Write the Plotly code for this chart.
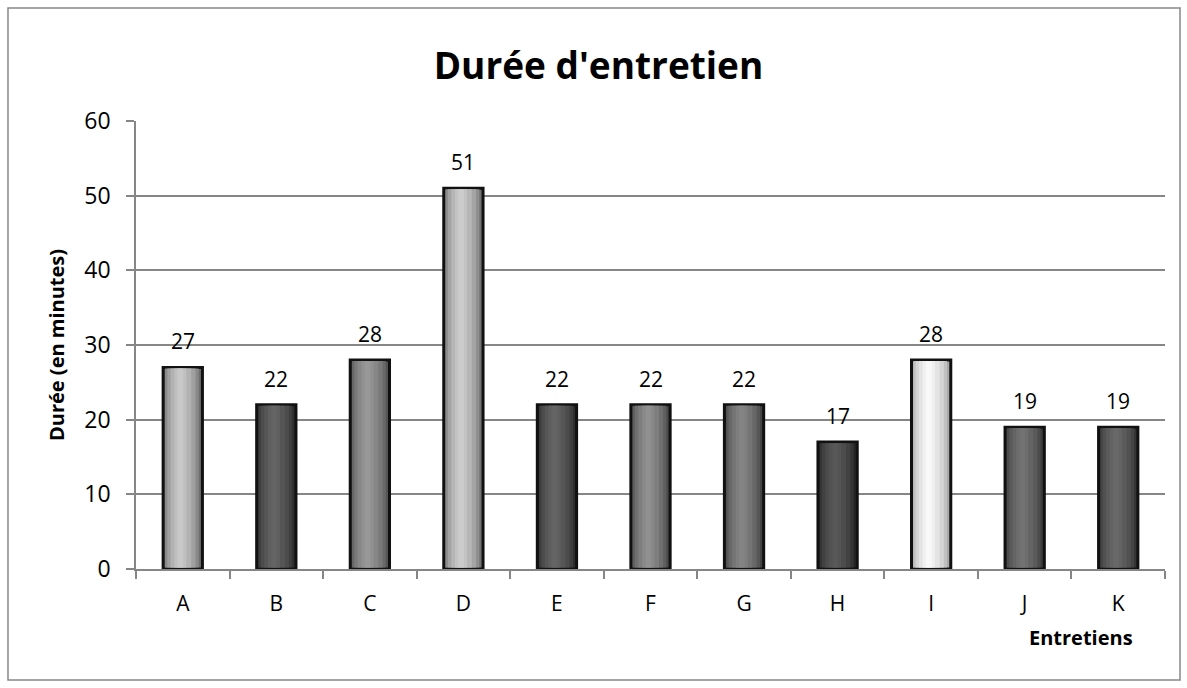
import plotly.graph_objects as go

categories = ["A", "B", "C", "D", "E", "F", "G", "H", "I", "J", "K"]
values = [27, 22, 28, 51, 22, 22, 22, 17, 28, 19, 19]
# grey levels of each bar (edge and centre highlight), 0-255
edge_grey = [112, 46, 85, 116, 46, 74, 68, 38, 168, 60, 52]
light_grey = [200, 100, 152, 204, 100, 144, 132, 88, 248, 114, 104]
y_ticks = [0, 10, 20, 30, 40, 50, 60]

FONT = "Open Sans"
fig = go.Figure()
n = len(values)


def grey(g):
    g = int(round(g))
    return f"rgb({g},{g},{g})"


fig.add_trace(go.Bar(x=categories, y=values, width=0.42,
                     marker=dict(color=[grey(g) for g in edge_grey], line=dict(color="#111111", width=3)),
                     hoverinfo="skip", showlegend=False))

layers = [(0.36, -0.19, 0.3), (0.30, -0.165, 0.55), (0.22, -0.13, 0.75), (0.13, -0.09, 0.9), (0.06, -0.055, 1.0)]
for w, off, t in layers:
    cols = [grey(e + (l - e) * t) for e, l in zip(edge_grey, light_grey)]
    fig.add_trace(go.Bar(x=categories, y=[v - 0.35 for v in values], width=w, offset=off,
                         base=[0.2] * n,
                         marker=dict(color=cols, line=dict(width=0)),
                         hoverinfo="skip", showlegend=False))

for c, v in zip(categories, values):
    fig.add_annotation(x=c, y=v, text=str(v), showarrow=False, yshift=26,
                       font=dict(family=FONT, size=21, color="#000000"))

fig.add_annotation(xref="paper", yref="paper", x=(1081 - 136) / 1029, y=(569 - 637) / 448,
                   text="<b>Entretiens</b>", showarrow=False, xanchor="center", yanchor="middle",
                   font=dict(family=FONT, size=20, color="#000000"))

fig.add_shape(type="rect", xref="paper", yref="paper",
              x0=-0.1244, x1=1.0146, y0=-0.2478, y1=1.2522,
              line=dict(color="#888888", width=1.5), fillcolor="rgba(0,0,0,0)", layer="below")

fig.update_layout(
    width=1187, height=688,
    margin=dict(l=136, r=22, t=121, b=119),
    paper_bgcolor="white", plot_bgcolor="white",
    barmode="overlay",
    title=dict(text="<b>Durée d'entretien</b>", x=598.5 / 1187, xref="container", xanchor="center",
               y=1 - 66 / 688, yanchor="middle", yref="container",
               font=dict(family=FONT, size=37, color="#000000")),
    font=dict(family=FONT, color="#000000"),
    xaxis=dict(showline=True, linecolor="#868686", linewidth=1.5,
               ticks="outside", ticklen=8, tickcolor="#868686", tickwidth=1.5,
               tickson="boundaries", showgrid=False, ticklabelstandoff=15,
               tickfont=dict(family=FONT, size=21, color="#000000")),
    yaxis=dict(range=[0, 60], tickvals=y_ticks, showline=True, linecolor="#868686", linewidth=1.5,
               ticks="outside", ticklen=8, tickcolor="#868686", tickwidth=1.5,
               showgrid=True, gridcolor="#868686", gridwidth=1.5, zeroline=False,
               ticklabelstandoff=11,
               tickfont=dict(family=FONT, size=23, color="#000000"),
               title=dict(text="<b>Durée (en minutes)</b>", standoff=14,
                          font=dict(family=FONT, size=20, color="#000000"))),
)

fig.write_html("out.html", config={"displayModeBar": False},
               post_script="document.body.style.margin='0';document.body.style.overflow='hidden';")
